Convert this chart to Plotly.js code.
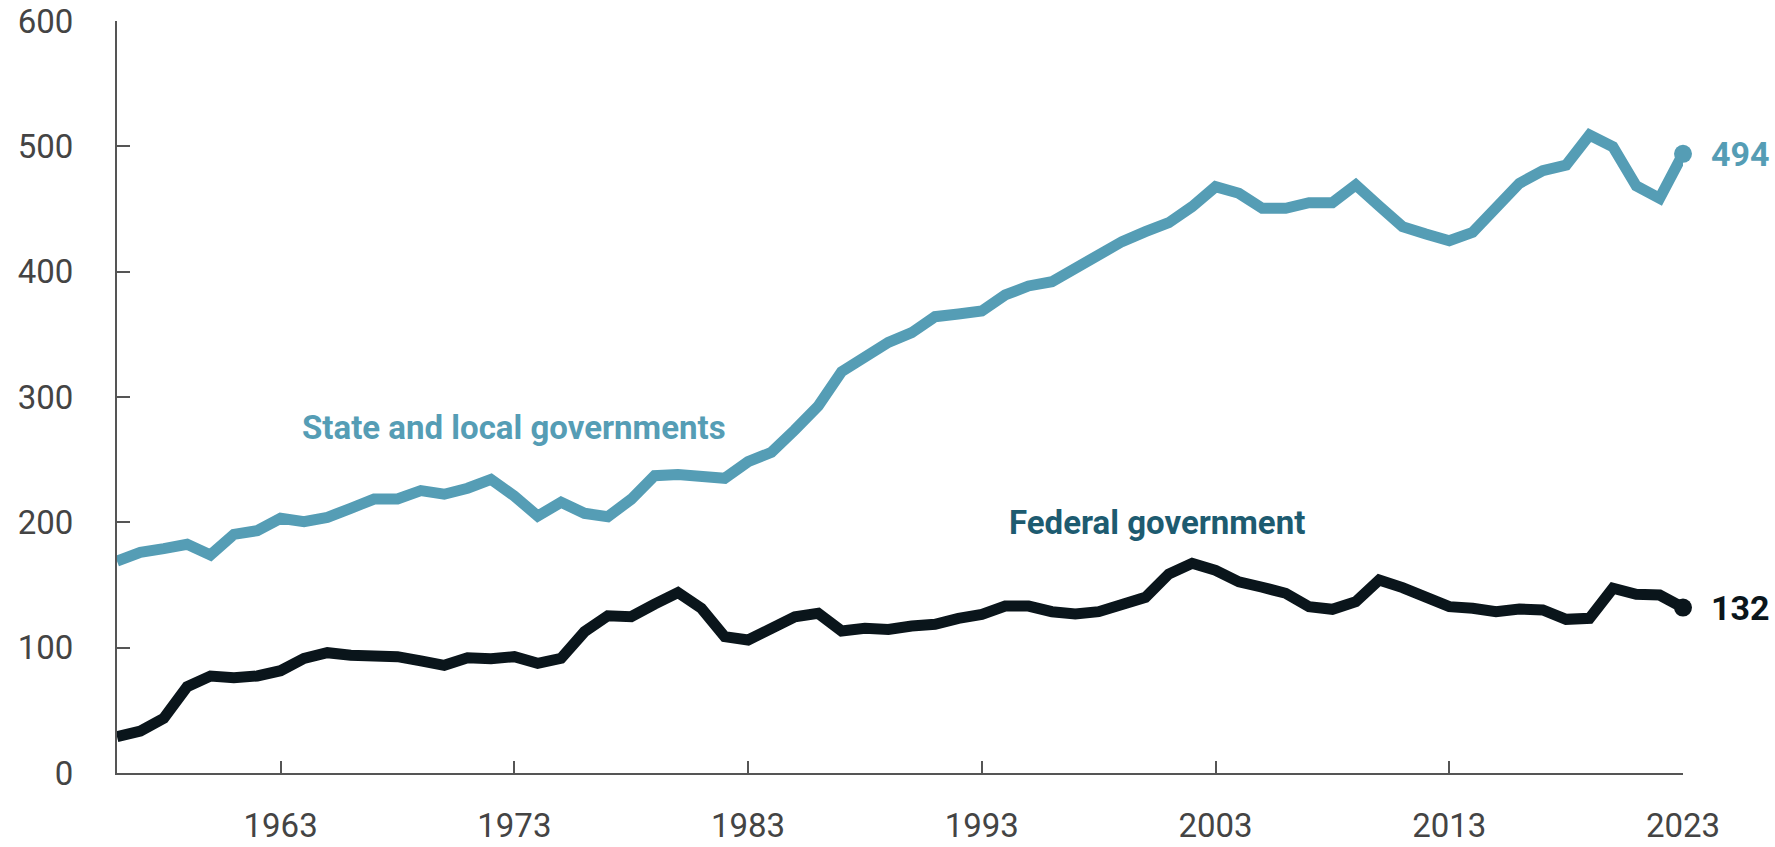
<!DOCTYPE html>
<html>
<head>
<meta charset="utf-8">
<script src="https://cdn.plot.ly/plotly-3.0.1.min.js"></script>
<style>
  html, body { margin: 0; padding: 0; background: #ffffff; }
  #chart { width: 1775px; height: 847px; }
</style>
</head>
<body>
<div id="chart"></div>
<script>
const years = [1956,1957,1958,1959,1960,1961,1962,1963,1964,1965,
  1966,1967,1968,1969,1970,1971,1972,1973,1974,1975,
  1976,1977,1978,1979,1980,1981,1982,1983,1984,1985,
  1986,1987,1988,1989,1990,1991,1992,1993,1994,1995,
  1996,1997,1998,1999,2000,2001,2002,2003,2004,2005,
  2006,2007,2008,2009,2010,2011,2012,2013,2014,2015,
  2016,2017,2018,2019,2020,2021,2022,2023];

const stateLocal = [169,176,179,182.5,174,190.4,193.3,203.2,200.5,204,
  211.2,218.6,218.6,225.3,222.4,227.2,234.3,221,205,216,
  207.2,204.5,218.4,237.2,238.2,235.9,235.1,248.4,255.9,273.7,
  292.8,320.2,332.2,343.6,351.3,364.1,366.2,368.6,381.4,388.6,
  392,402.7,412,424,431.9,439.1,451.9,467.8,462.5,450.5,
  450.5,455,455,469.2,452.4,435.9,430,424.7,431.4,451.9,
  470.5,480.6,485.1,509,499.7,468.4,458.5,494];

const federal = [29,33.5,43.6,68.9,77.4,76,77.4,81.6,91.5,96,
  93.9,92.8,92.8,89.4,85.9,92,91.2,92.8,87.5,91.5,
  112.7,125.5,124.7,134.8,144,131.4,108.8,106.1,115.4,124.7,
  127.4,113.3,115.4,114.6,117.3,118.6,123.4,126.6,133.2,133.2,
  128.7,126.9,128.7,134.8,140.2,158.8,167.3,161.7,152.5,148.2,
  143.4,132.7,130.6,136.7,154,147.9,140.7,132.7,131.4,128.7,
  130.9,130.1,122.6,123.4,147.4,142.6,142,132];

const xTicks = [1963,1973,1983,1993,2003,2013,2023];
const yTicks = [0,100,200,300,400,500,600];
const seriesNames = ["State and local governments", "Federal government"];

const stateColor = "#559DB5";
const fedColor = "#0A151B";
const fedLabelColor = "#1D5B70";
const axisColor = "#555555";

const last = years.length - 1;

const traces = [
  { x: years, y: stateLocal, type: "scatter", mode: "lines", name: seriesNames[0],
    line: { color: stateColor, width: 11 }, cliponaxis: false, hoverinfo: "skip" },
  { x: years, y: federal, type: "scatter", mode: "lines", name: seriesNames[1],
    line: { color: fedColor, width: 11 }, cliponaxis: false, hoverinfo: "skip" },
  { x: [years[last]], y: [stateLocal[last]], type: "scatter", mode: "markers",
    marker: { color: stateColor, size: 18 }, cliponaxis: false, hoverinfo: "skip" },
  { x: [years[last]], y: [federal[last]], type: "scatter", mode: "markers",
    marker: { color: fedColor, size: 18 }, cliponaxis: false, hoverinfo: "skip" }
];

const tickFont = { family: "Roboto, 'Liberation Sans', sans-serif", size: 33, color: "#444444" };
const boldFont = (c, s) => ({ family: "Roboto, 'Liberation Sans', sans-serif", size: s, color: c, weight: 700 });

const layout = {
  width: 1775, height: 847,
  margin: { l: 117, r: 92, t: 21, b: 74, pad: 0 },
  paper_bgcolor: "#ffffff", plot_bgcolor: "#ffffff",
  showlegend: false,
  xaxis: {
    range: [years[0], years[last]],
    tickmode: "array", tickvals: xTicks, ticktext: xTicks.map(String),
    ticks: "inside", ticklen: 12, tickwidth: 2, tickcolor: axisColor,
    showline: true, linecolor: axisColor, linewidth: 2,
    showgrid: false, zeroline: false,
    tickfont: tickFont, ticklabelstandoff: 22, fixedrange: true
  },
  yaxis: {
    range: [0, 600],
    tickmode: "array", tickvals: yTicks, ticktext: yTicks.map(String),
    ticks: "inside", ticklen: 13, tickwidth: 2, tickcolor: axisColor,
    showline: true, linecolor: axisColor, linewidth: 2,
    showgrid: false, zeroline: false,
    tickfont: tickFont, ticklabelstandoff: 35, fixedrange: true
  },
  annotations: [
    { x: 1963.84, y: 276, xref: "x", yref: "y", text: seriesNames[0], showarrow: false,
      xanchor: "left", yanchor: "middle", font: boldFont(stateColor, 33) },
    { x: 1994.09, y: 200, xref: "x", yref: "y", text: seriesNames[1], showarrow: false,
      xanchor: "left", yanchor: "middle", font: boldFont(fedLabelColor, 33) },
    { x: years[last], y: stateLocal[last], xref: "x", yref: "y", text: String(stateLocal[last]),
      showarrow: false, xanchor: "left", yanchor: "middle", xshift: 26,
      font: boldFont(stateColor, 34) },
    { x: years[last], y: federal[last], xref: "x", yref: "y", text: String(federal[last]),
      showarrow: false, xanchor: "left", yanchor: "middle", xshift: 26,
      font: boldFont(fedColor, 34) }
  ]
};

Plotly.newPlot("chart", traces, layout, { displayModeBar: false, staticPlot: true });
</script>
</body>
</html>
